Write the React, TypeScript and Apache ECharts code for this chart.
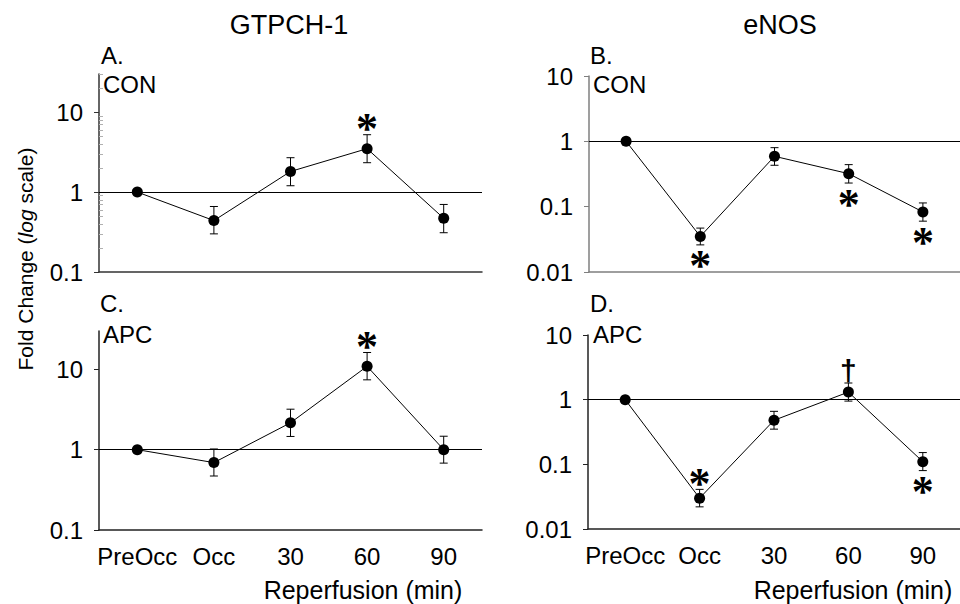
import React, { useEffect, useRef } from "react";
import * as echarts from "echarts";

const categories = ["PreOcc", "Occ", "30", "60", "90"];

// Panel A: GTPCH-1, CON
const gtpConMean = [1, 0.44, 1.81, 3.49, 0.47];
const gtpConLow = [null, 0.30, 1.20, 2.33, 0.31];
const gtpConHigh = [null, 0.66, 2.69, 5.22, 0.70];
// Panel B: eNOS, CON
const enosConMean = [1, 0.035, 0.59, 0.32, 0.083];
const enosConLow = [null, 0.026, 0.43, 0.23, 0.060];
const enosConHigh = [null, 0.047, 0.80, 0.44, 0.114];
// Panel C: GTPCH-1, APC
const gtpApcMean = [1, 0.69, 2.16, 10.9, 1.0];
const gtpApcLow = [null, 0.47, 1.46, 7.4, 0.68];
const gtpApcHigh = [null, 1.02, 3.19, 16.2, 1.47];
// Panel D: eNOS, APC
const enosApcMean = [1, 0.030, 0.48, 1.31, 0.11];
const enosApcLow = [null, 0.022, 0.35, 0.95, 0.080];
const enosApcHigh = [null, 0.041, 0.66, 1.81, 0.152];

// significance marks: [category index, mark, side]
const gtpConMarks = [[3, "*", "above"]];
const enosConMarks = [[1, "*", "below"], [3, "*", "below"], [4, "*", "below"]];
const gtpApcMarks = [[3, "*", "above"]];
const enosApcMarks = [[1, "*", "above"], [3, "†", "above"], [4, "*", "below"]];

const gtpTicks = [0.1, 1, 10];
const enosTicks = [0.01, 0.1, 1, 10];
const gtpMinorTicks = [0.2, 0.3, 0.4, 0.5, 0.6, 0.7, 0.8, 0.9, 2, 3, 4, 5, 6, 7, 8, 9, 20, 30];

const FONT = "'Liberation Sans', Arial, sans-serif";
const SERIF = "'Liberation Serif', 'Times New Roman', serif";

type Panel = {
  mean: number[];
  low: (number | null)[];
  high: (number | null)[];
  marks: any[];
  ticks: number[];
  min: number;
  max: number;
  grid: { left: number; top: number; width: number; height: number };
  axisColor: string;
  showX: boolean;
  minor: boolean;
};

const panels: Panel[] = [
  { mean: gtpConMean, low: gtpConLow, high: gtpConHigh, marks: gtpConMarks, ticks: gtpTicks, min: 0.1, max: 30,
    grid: { left: 99, top: 74, width: 383, height: 198 }, axisColor: "#333", showX: false, minor: true },
  { mean: enosConMean, low: enosConLow, high: enosConHigh, marks: enosConMarks, ticks: enosTicks, min: 0.01, max: 10,
    grid: { left: 589, top: 76, width: 383, height: 196 }, axisColor: "#7f7f7f", showX: false, minor: false },
  { mean: gtpApcMean, low: gtpApcLow, high: gtpApcHigh, marks: gtpApcMarks, ticks: gtpTicks, min: 0.1, max: 30,
    grid: { left: 99, top: 331, width: 383, height: 199 }, axisColor: "#222", showX: true, minor: false },
  { mean: enosApcMean, low: enosApcLow, high: enosApcHigh, marks: enosApcMarks, ticks: enosTicks, min: 0.01, max: 10,
    grid: { left: 588, top: 335, width: 383, height: 194 }, axisColor: "#222", showX: true, minor: false },
];

function fmt(v: number) {
  return String(+Number(v).toPrecision(3));
}

function buildOption() {
  const grids: any[] = [];
  const xAxes: any[] = [];
  const yAxes: any[] = [];
  const series: any[] = [];

  panels.forEach((p, gi) => {
    grids.push({ ...p.grid, containLabel: false });
    xAxes.push({
      type: "category",
      gridIndex: gi,
      data: categories,
      boundaryGap: true,
      axisLine: { show: true, onZero: false, lineStyle: { color: p.axisColor, width: 1.5 } },
      axisTick: { show: false },
      axisLabel: { show: p.showX, fontSize: 24, fontFamily: FONT, color: "#000", margin: 14, interval: 0 },
      splitLine: { show: false },
    });
    const yIdx = yAxes.length;
    yAxes.push({
      type: "log",
      logBase: 10,
      gridIndex: gi,
      min: p.min,
      max: p.max,
      position: "left",
      axisLine: { show: true, lineStyle: { color: p.axisColor, width: 1.5 } },
      axisTick: { show: true, length: 5, customValues: p.ticks, lineStyle: { color: p.axisColor, width: 1 } },
      axisLabel: {
        customValues: p.ticks,
        formatter: (v: number) => fmt(v),
        fontSize: 24,
        fontFamily: FONT,
        color: "#000",
        margin: 16,
      },
      splitLine: { show: false },
      minorTick: { show: false },
    });
    if (p.minor) {
      yAxes.push({
        type: "log",
        logBase: 10,
        gridIndex: gi,
        min: p.min,
        max: p.max,
        position: "left",
        axisLine: { show: false },
        axisTick: { show: true, inside: true, length: 4, customValues: gtpMinorTicks, lineStyle: { color: "#b0b0b0", width: 1 } },
        axisLabel: { show: false },
        splitLine: { show: false },
      });
    }

    series.push({
      type: "line",
      xAxisIndex: gi,
      yAxisIndex: yIdx,
      data: p.mean,
      symbol: "circle",
      symbolSize: 11,
      itemStyle: { color: "#000", opacity: 1 },
      lineStyle: { color: "#000", width: 1 },
      z: 3,
      markLine: {
        silent: true,
        symbol: "none",
        label: { show: false },
        lineStyle: { color: "#000", width: 1, type: "solid" },
        data: [{ yAxis: 1 }],
      },
    });

    const errData = p.mean
      .map((_, i) => (p.low[i] == null ? null : [i, p.low[i], p.high[i]]))
      .filter((d) => d != null);
    series.push({
      type: "custom",
      xAxisIndex: gi,
      yAxisIndex: yIdx,
      data: errData,
      encode: { x: 0, y: [1, 2] },
      z: 2,
      renderItem: (params: any, api: any) => {
        const x = api.value(0);
        const a = api.coord([x, api.value(1)]);
        const b = api.coord([x, api.value(2)]);
        const hw = 4;
        const st = { stroke: "#000", lineWidth: 1 };
        return {
          type: "group",
          children: [
            { type: "line", shape: { x1: a[0], y1: a[1], x2: b[0], y2: b[1] }, style: st },
            { type: "line", shape: { x1: a[0] - hw, y1: a[1], x2: a[0] + hw, y2: a[1] }, style: st },
            { type: "line", shape: { x1: b[0] - hw, y1: b[1], x2: b[0] + hw, y2: b[1] }, style: st },
          ],
        };
      },
    });

    // significance marks anchored at the end of each error bar
    series.push({
      type: "scatter",
      xAxisIndex: gi,
      yAxisIndex: yIdx,
      symbolSize: 0,
      silent: true,
      z: 4,
      itemStyle: { color: "#000", opacity: 1 },
      data: p.marks.map((m) => {
        const i = m[0];
        const isDagger = m[1] === "†";
        const above = m[2] === "above";
        const anchor = above ? p.high[i] : p.low[i];
        const dy = isDagger ? -13 : above ? -6 : 21;
        return {
          value: [i, anchor],
          label: {
            show: true,
            position: "inside",
            formatter: m[1],
            offset: [0, dy],
            fontSize: isDagger ? 30 : 44,
            fontWeight: "bold",
            fontFamily: isDagger ? FONT : SERIF,
            color: "#000",
            opacity: 1,
            textBorderWidth: 0,
          },
        };
      }),
    });
  });

  const txt = (text: string, x: number, y: number, size: number, align = "left") => ({
    type: "text",
    x,
    y,
    silent: true,
    style: { text, fontSize: size, fontFamily: FONT, fill: "#000", align, verticalAlign: "middle" },
  });

  const graphic: any[] = [
    txt("GTPCH-1", 289, 25, 27, "center"),
    txt("eNOS", 780, 25, 27, "center"),
    txt("A.", 101, 55, 24),
    txt("CON", 103, 84, 24),
    txt("B.", 590, 55, 24),
    txt("CON", 593, 84, 24),
    txt("C.", 100, 303, 24),
    txt("APC", 103, 334, 24),
    txt("D.", 590, 303, 24),
    txt("APC", 593, 334, 24),
    txt("Reperfusion (min)", 363, 590, 25, "center"),
    txt("Reperfusion (min)", 853, 590, 25, "center"),
    {
      type: "text",
      x: 25,
      y: 259,
      rotation: Math.PI / 2,
      silent: true,
      style: {
        text: "Fold Change ({i|log} scale)",
        fontSize: 21,
        fontFamily: FONT,
        fill: "#000",
        align: "center",
        verticalAlign: "middle",
        rich: { i: { fontStyle: "italic", fontSize: 21, fontFamily: FONT, fill: "#000" } },
      },
    },
  ];

  return {
    animation: false,
    backgroundColor: "#fff",
    grid: grids,
    xAxis: xAxes,
    yAxis: yAxes,
    series,
    graphic,
  };
}

export default function App() {
  const ref = useRef<HTMLDivElement>(null);
  useEffect(() => {
    if (!ref.current) return;
    const chart = echarts.init(ref.current, null, { renderer: "svg" });
    chart.setOption(buildOption() as any);
    return () => chart.dispose();
  }, []);
  return (
    <div
      ref={ref}
      style={{ position: "absolute", left: 0, top: 0, width: 960, height: 604, background: "#fff" }}
    />
  );
}
